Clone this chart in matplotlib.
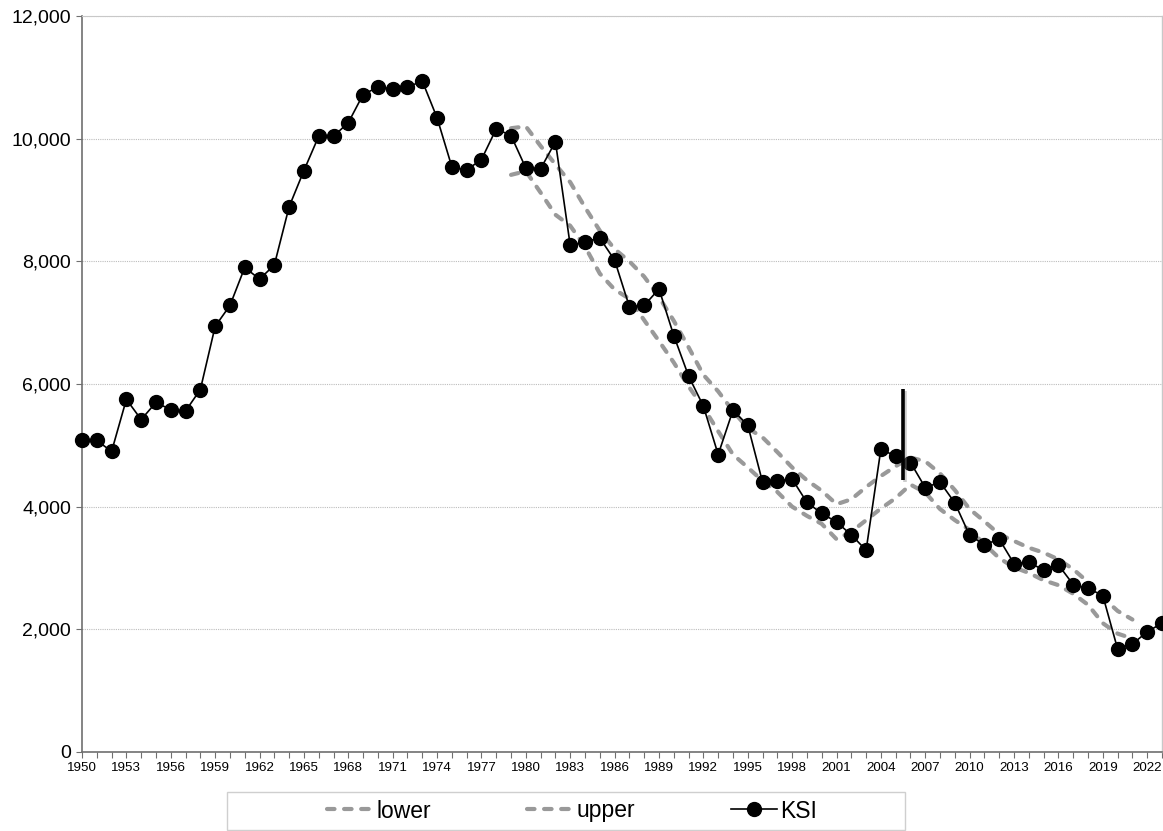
import matplotlib
matplotlib.use("Agg")
import matplotlib.pyplot as plt
import matplotlib.patheffects as pe
from matplotlib.patches import Rectangle
from matplotlib.ticker import FuncFormatter

plt.rcParams['font.family'] = ['Liberation Sans', 'DejaVu Sans']

years = list(range(1950, 2024))
ksi = [5080, 5080, 4900, 5750, 5420, 5700, 5580, 5560, 5910, 6940,
       7280, 7900, 7710, 7940, 8890, 9480, 10040, 10040, 10260, 10720,
       10840, 10810, 10840, 10940, 10340, 9540, 9490, 9660, 10160, 10050,
       9520, 9510, 9950, 8260, 8320, 8380, 8020, 7260, 7280, 7550,
       6790, 6130, 5640, 4850, 5570, 5330, 4400, 4420, 4450, 4070,
       3890, 3750, 3540, 3290, 4940, 4820, 4720, 4310, 4400, 4060,
       3530, 3380, 3470, 3070, 3100, 2960, 3050, 2730, 2670, 2550,
       1680, 1760, 1960, 2100]

band_years = list(range(1979, 2022))
lower = [9410, 9470, 9120, 8760, 8580, 8240, 7800, 7540, 7390, 7040,
         6700, 6350, 5960, 5620, 5230, 4850, 4640, 4420, 4240, 4000,
         3850, 3720, 3470, 3590, 3780, 3970, 4140, 4360, 4230, 3960,
         3780, 3620, 3390, 3160, 3010, 2920, 2800, 2720, 2580, 2400,
         2100, 1930, 1850]
upper = [10170, 10200, 9880, 9580, 9290, 8880, 8500, 8200, 8000, 7750,
         7420, 7030, 6600, 6150, 5880, 5560, 5280, 5130, 4890, 4640,
         4430, 4260, 4040, 4120, 4320, 4500, 4660, 4800, 4740, 4540,
         4270, 3960, 3760, 3550, 3440, 3330, 3250, 3140, 2980, 2770,
         2520, 2300, 2160]

break_year = 2005.5
break_range = [4440, 5920]

y_ticks = [0, 2000, 4000, 6000, 8000, 10000, 12000]
label_step = 3

fig = plt.figure(figsize=(11.63, 8.31), dpi=100)
ax = fig.add_axes([82/1163, 1-752/831, (1162-82)/1163, (752-16)/831])

dash_col = '#999999'
for s, name in [(lower, 'lower'), (upper, 'upper')]:
    ln, = ax.plot(band_years, s, color=dash_col, lw=3.0, label=name,
                  dash_capstyle='round', solid_capstyle='round')
    ln.set_dashes((1.8, 2.3))

ax.plot(years, ksi, color='black', lw=1.2, marker='o', markersize=10,
        markerfacecolor='black', markeredgecolor='black', label='KSI',
        clip_on=False, zorder=5)

ax.plot([break_year, break_year], break_range, color='black', lw=2.6,
        solid_capstyle='butt', zorder=6,
        path_effects=[pe.SimpleLineShadow(offset=(1.5, -1.5), shadow_color='gray', alpha=0.4),
                      pe.Normal()])

ax.set_xlim(years[0], years[-1])
ax.set_ylim(y_ticks[0], y_ticks[-1])
ax.set_yticks(y_ticks)
ax.yaxis.set_major_formatter(FuncFormatter(lambda v, p: f"{int(v):,}"))
ax.set_xticks(years)
ax.set_xticklabels([str(y) if (y - years[0]) % label_step == 0 else '' for y in years])

ax.grid(axis='y', color='#bdbdbd', lw=0.8, linestyle=(0, (1, 1)))
ax.set_axisbelow(True)
for sp in ['left', 'bottom']:
    ax.spines[sp].set_color('#6f6f6f')
    ax.spines[sp].set_linewidth(1.2)
ax.spines['top'].set_color('#c8c8c8')
ax.spines['top'].set_linewidth(0.8)
ax.spines['right'].set_color('#c8c8c8')
ax.spines['right'].set_linewidth(1.0)

ax.tick_params(axis='y', direction='out', length=4, color='#6f6f6f', labelsize=14, pad=4)
ax.tick_params(axis='x', direction='out', length=4, color='#6f6f6f', labelsize=9.6, pad=3)

# legend
fig.patches.append(Rectangle((227/1163, 1-830/831), (905-227)/1163, (830-792)/831,
                             transform=fig.transFigure, facecolor='white',
                             edgecolor='#cfcfcf', lw=1.0))
leg = fig.legend(loc='center', bbox_to_anchor=(572/1163, 1-811/831), ncol=3,
                 frameon=False, fontsize=16.5, handlelength=2.0, handletextpad=0.15,
                 columnspacing=4.2)

fig.savefig('out.png', dpi=100)
